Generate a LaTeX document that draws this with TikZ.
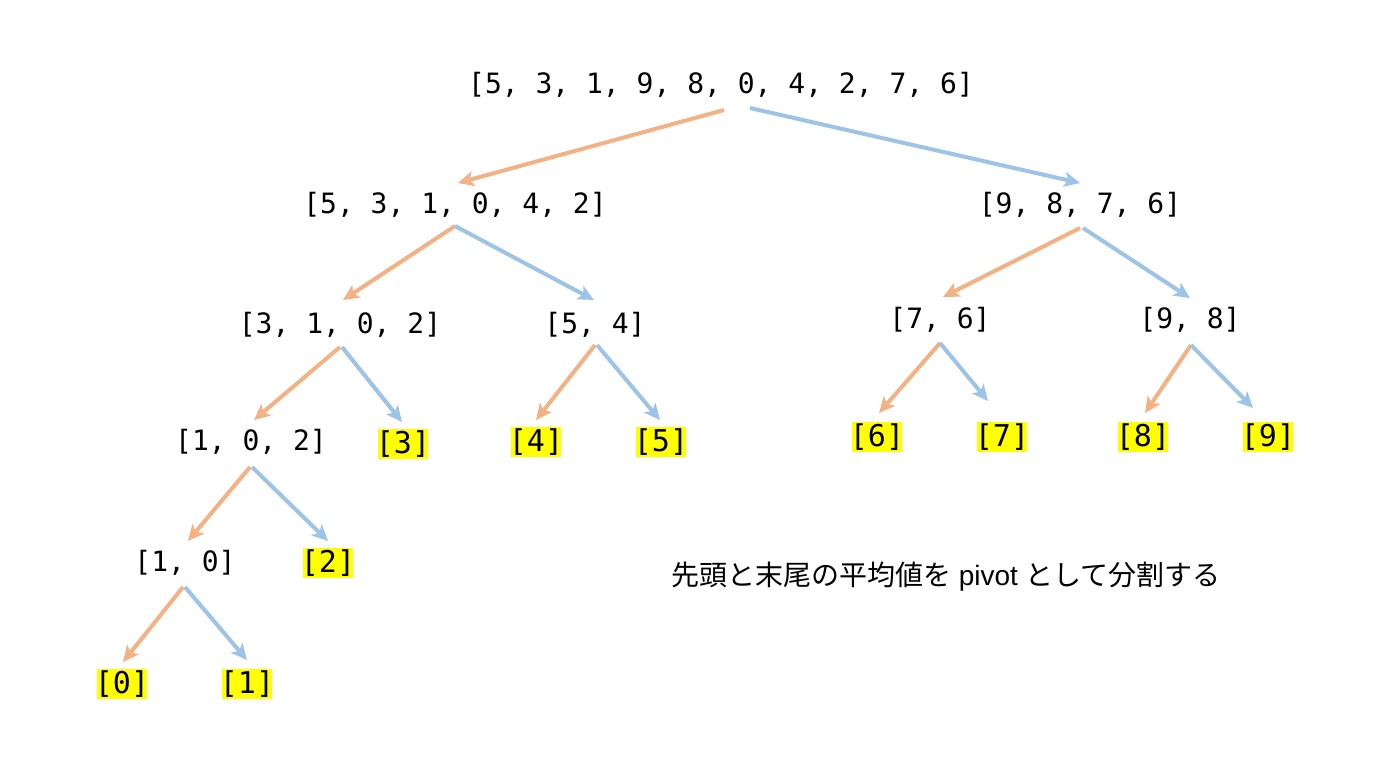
\documentclass[tikz,border=0pt]{standalone}
\usepackage{fontspec}
\setmonofont{DejaVu Sans Mono}
\newfontfamily\jpfont{Noto Sans CJK JP}
\newfontfamily\latfont{Liberation Sans}
\usetikzlibrary{arrows.meta}
\definecolor{orA}{HTML}{F4B183}
\definecolor{blA}{HTML}{9DC3E6}
\definecolor{hl}{HTML}{FFFF00}
\tikzset{
  lst/.style={font=\ttfamily\fontsize{14pt}{16pt}\selectfont, inner sep=0pt},
  leaf/.style={font=\ttfamily\fontsize{15pt}{17pt}\selectfont, fill=hl, inner xsep=-1pt, inner ysep=1pt},
  arr/.style={line width=2pt, -{Stealth[length=8pt,width=7.5pt,inset=2pt]}},
  lo/.style={arr, draw=orA},
  hi/.style={arr, draw=blA},
}
\begin{document}
\begin{tikzpicture}[x=0.5pt,y=-0.5pt]
\path[use as bounding box] (0,0) rectangle (1400,768);
% nodes
\node[lst] (top) at (721,85) {[5, 3, 1, 9, 8, 0, 4, 2, 7, 6]};
\node[lst] (l1) at (455,205) {[5, 3, 1, 0, 4, 2]};
\node[lst] (r1) at (1080,205) {[9, 8, 7, 6]};
\node[lst] (l2a) at (340,325) {[3, 1, 0, 2]};
\node[lst] (l2b) at (595,325) {[5, 4]};
\node[lst] (r2a) at (940,320) {[7, 6]};
\node[lst] (r2b) at (1190,320) {[9, 8]};
\node[lst] (l3a) at (251,442) {[1, 0, 2]};
\node[leaf] (n3) at (403,444) {[3]};
\node[leaf] (n4) at (536,442) {[4]};
\node[leaf] (n5) at (661,442) {[5]};
\node[leaf] (n6) at (877,437) {[6]};
\node[leaf] (n7) at (1002,437) {[7]};
\node[leaf] (n8) at (1143,437) {[8]};
\node[leaf] (n9) at (1268,437) {[9]};
\node[lst] (l4a) at (185,563) {[1, 0]};
\node[leaf] (n2) at (328,563) {[2]};
\node[leaf] (n0) at (122,684) {[0]};
\node[leaf] (n1) at (247,684) {[1]};
\node[inner sep=0pt, font=\fontsize{14pt}{16pt}\selectfont] (cap) at (946,577)
  {\jpfont 先頭と末尾の平均値を{\latfont\ pivot\ }として分割する};
% arrows
\draw[lo] ([shift={(3,25)}]top.center) -- ([shift={(3,-22)}]l1.center);
\draw[hi] ([shift={(29,23)}]top.center) -- ([shift={(0,-22)}]r1.center);
\draw[lo] ([shift={(0,21)}]l1.center) -- ([shift={(3,-25)}]l2a.center);
\draw[hi] ([shift={(0,21)}]l1.center) -- ([shift={(-1,-25)}]l2b.center);
\draw[lo] ([shift={(0,23)}]r1.center) -- ([shift={(3,-23)}]r2a.center);
\draw[hi] ([shift={(3,23)}]r1.center) -- ([shift={(0,-22)}]r2b.center);
\draw[lo] ([shift={(0,22)}]l2a.center) -- ([shift={(3,-22)}]l3a.center);
\draw[hi] ([shift={(2,22)}]l2a.center) -- ([shift={(-1,-22)}]n3.center);
\draw[lo] ([shift={(0,20)}]l2b.center) -- ([shift={(0,-22)}]n4.center);
\draw[hi] ([shift={(2,20)}]l2b.center) -- ([shift={(-1,-22)}]n5.center);
\draw[lo] ([shift={(0,23)}]r2a.center) -- ([shift={(2,-24)}]n6.center);
\draw[hi] ([shift={(0,23)}]r2a.center) -- ([shift={(-14,-36)}]n7.center);
\draw[lo] ([shift={(1,25)}]r2b.center) -- ([shift={(2,-24)}]n8.center);
\draw[hi] ([shift={(1,25)}]r2b.center) -- ([shift={(-15,-29)}]n9.center);
\draw[lo] ([shift={(-1,25)}]l3a.center) -- ([shift={(3,-22)}]l4a.center);
\draw[hi] ([shift={(1,25)}]l3a.center) -- ([shift={(0,-22)}]n2.center);
\draw[lo] ([shift={(-2,24)}]l4a.center) -- ([shift={(1,-22)}]n0.center);
\draw[hi] ([shift={(0,24)}]l4a.center) -- ([shift={(0,-24)}]n1.center);
\end{tikzpicture}
\end{document}
